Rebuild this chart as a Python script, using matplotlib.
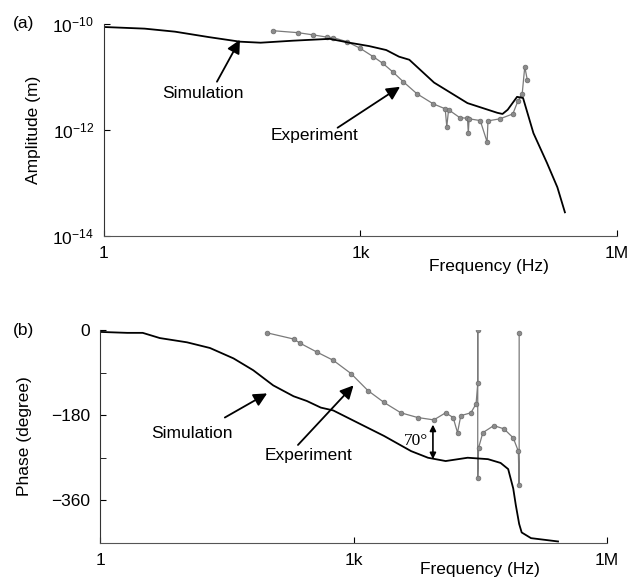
"""Amplitude and phase response: simulation vs experiment."""

import matplotlib.pyplot as plt
from matplotlib.ticker import FixedLocator, NullFormatter, NullLocator

plt.rcParams["font.family"] = ["Liberation Sans", "DejaVu Sans"]
plt.rcParams["mathtext.fontset"] = "custom"
plt.rcParams["mathtext.rm"] = "Liberation Sans"
plt.rcParams["mathtext.it"] = "Liberation Sans"

# (a) amplitude
sim_amp_freq = [1, 3, 6.8, 17, 39, 68, 162, 437, 741, 1260, 2000, 2820, 3720,
                7240, 17800, 39800, 45700, 52500, 67600, 79400, 105000,
                151000, 200000, 245000]
sim_amp = [8.7e-11, 8.1e-11, 7.1e-11, 5.6e-11, 4.6e-11, 4.4e-11, 4.8e-11,
           5.2e-11, 4.4e-11, 3.8e-11, 3.2e-11, 2.4e-11, 2.1e-11, 7.8e-12,
           3.2e-12, 2.1e-12, 2.0e-12, 2.4e-12, 4.2e-12, 4.0e-12, 8.7e-13,
           2.4e-13, 8.3e-14, 2.8e-14]

exp_amp_freq = [95, 186, 275, 407, 479, 692, 977, 1410, 1820, 2400, 3160,
                4570, 7080, 9770, 10200, 10700, 14500, 17800, 18200, 18600,
                25100, 30200, 30900, 42700, 60300, 69200, 77600, 83200, 89100]
exp_amp = [7.4e-11, 6.8e-11, 6.2e-11, 5.6e-11, 5.5e-11, 4.6e-11, 3.5e-11,
           2.4e-11, 1.8e-11, 1.23e-11, 8.1e-12, 4.8e-12, 3.1e-12, 2.5e-12,
           1.15e-12, 2.4e-12, 1.7e-12, 1.66e-12, 8.7e-13, 1.62e-12, 1.5e-12,
           5.9e-13, 1.48e-12, 1.62e-12, 2.0e-12, 3.5e-12, 4.8e-12, 1.55e-11,
           8.7e-12]

# (b) phase
sim_ph_freq = [1, 2.1, 3.2, 5.1, 10.7, 20, 38, 65, 112, 195, 280, 410, 575,
               1120, 2300, 4800, 7600, 12300, 22400, 39000, 55000, 67600,
               77600, 83200, 91200, 97700, 126000, 263000]
sim_phase = [-4, -6, -6, -17, -26, -38, -60, -85, -117, -140, -150, -164, -170,
             -196, -224, -256, -270, -277, -270, -273, -281, -294, -335, -370,
             -410, -428, -440, -447]

exp_ph_freq = [95, 195, 234, 372, 575, 933, 1480, 2290, 3630, 5750, 8910,
               12300, 15100, 17000, 18600, 24500, 28200, 29500, 29500, 29500,
               30200, 33900, 45700, 60300, 77600, 89100, 91200, 91200]
exp_phase = [-6, -19, -28, -47, -64, -92, -128, -153, -175, -185, -190, -175,
             -185, -217, -181, -175, -156, -113, 0, -313, -249, -217, -202,
             -209, -228, -256, -327, -6]

EXP_STYLE = dict(color="#7a7a7a", lw=0.9, marker="o", ms=3.4,
                 markerfacecolor="#8c8c8c", markeredgecolor="#6a6a6a",
                 markeredgewidth=0.5)
ARROW = dict(arrowstyle="-|>", color="black", lw=1.3, mutation_scale=20,
             shrinkA=0, shrinkB=0)


def _style_axes(ax):
    for side in ("top", "right"):
        ax.spines[side].set_visible(False)
    ax.spines["left"].set_color("#333333")
    ax.spines["bottom"].set_color("#555555")
    ax.tick_params(direction="in", length=4, labelsize=12.5, pad=7)
    ax.set_xscale("log")
    ax.set_xlim(1, 1e6)
    ax.xaxis.set_major_locator(FixedLocator([1, 1e3, 1e6]))
    ax.set_xticklabels(["1", "1k", "1M"])
    ax.xaxis.set_minor_locator(NullLocator())
    ax.xaxis.set_minor_formatter(NullFormatter())


fig = plt.figure(figsize=(6.33, 5.8), dpi=100)

ax_a = fig.add_axes([0.164, 0.593, 0.811, 0.366])
ax_a.plot(exp_amp_freq, exp_amp, **EXP_STYLE)
ax_a.plot(sim_amp_freq, sim_amp, color="black", lw=1.3)
_style_axes(ax_a)
ax_a.set_yscale("log")
ax_a.set_ylim(1e-14, 1e-10)
ax_a.yaxis.set_major_locator(FixedLocator([1e-14, 1e-12, 1e-10]))
ax_a.set_yticklabels([r"$\mathregular{10^{-14}}$", r"$\mathregular{10^{-12}}$",
                      r"$\mathregular{10^{-10}}$"])
ax_a.yaxis.set_minor_locator(NullLocator())
ax_a.set_ylabel("Amplitude (m)", fontsize=12.5, labelpad=8)
ax_a.set_xlabel("Frequency (Hz)", fontsize=12.5, labelpad=0)
ax_a.xaxis.set_label_coords(0.75, -0.11)
ax_a.annotate("", xy=(39, 5.0e-11), xytext=(21, 8.1e-12), arrowprops=ARROW)
ax_a.text(14.5, 4.8e-12, "Simulation", fontsize=12.5, ha="center", va="center")
ax_a.annotate("", xy=(2900, 6.5e-12), xytext=(540, 1.1e-12), arrowprops=ARROW)
ax_a.text(290, 7.8e-13, "Experiment", fontsize=12.5, ha="center", va="center")
fig.text(0.02, 0.96, "(a)", fontsize=12.5, va="center")

ax_b = fig.add_axes([0.158, 0.064, 0.801, 0.367])
ax_b.plot(exp_ph_freq, exp_phase, **EXP_STYLE)
ax_b.plot(sim_ph_freq, sim_phase, color="black", lw=1.3)
_style_axes(ax_b)
ax_b.set_ylim(-450, 0)
ax_b.set_yticks([-360, -180, 0])
ax_b.set_yticks([-270, -90], minor=True)
ax_b.tick_params(axis="y", which="minor", direction="in", length=4)
ax_b.set_ylabel("Phase (degree)", fontsize=12.5, labelpad=14)
ax_b.set_xlabel("Frequency (Hz)", fontsize=12.5, labelpad=0)
ax_b.xaxis.set_label_coords(0.75, -0.09)
ax_b.annotate("", xy=(95, -134), xytext=(30, -185), arrowprops=ARROW)
ax_b.text(12.3, -219, "Simulation", fontsize=12.5, ha="center", va="center")
ax_b.annotate("", xy=(1000, -117), xytext=(220, -243), arrowprops=ARROW)
ax_b.text(290, -266, "Experiment", fontsize=12.5, ha="center", va="center")
ax_b.annotate("", xy=(8700, -200), xytext=(8700, -273),
              arrowprops=dict(arrowstyle="<|-|>", color="black", lw=1.2,
                              mutation_scale=9, shrinkA=0, shrinkB=0))
ax_b.text(5500, -234, "70°", fontsize=12.5, family="Liberation Serif",
          ha="center", va="center")
fig.text(0.02, 0.431, "(b)", fontsize=12.5, va="center")

fig.savefig("out.png", dpi=100)
